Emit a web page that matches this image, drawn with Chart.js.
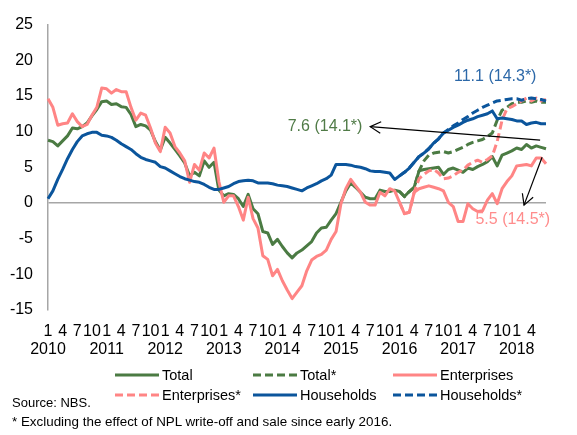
<!DOCTYPE html>
<html>
<head>
<meta charset="utf-8">
<script src="https://cdn.jsdelivr.net/npm/chart.js@4.4.1/dist/chart.umd.min.js"></script>
<style>
html,body{margin:0;padding:0;background:#fff;}
#wrap{position:relative;width:577px;height:435px;overflow:hidden;font-family:"Liberation Sans",Arial,sans-serif;color:#000;}
#c{position:absolute;left:0;top:0;}
.lg{position:absolute;height:18px;display:flex;align-items:center;font-size:14.5px;white-space:nowrap;}
.lg svg{margin-right:3px;}
.note{position:absolute;left:12px;line-height:16px;white-space:nowrap;}
</style>
</head>
<body>
<div id="wrap">
<canvas id="c" width="577" height="435"></canvas>
<div id="legend"></div>
<div class="note" style="top:395px;font-size:13px;">Source: NBS.</div>
<div class="note" style="top:414px;font-size:13.4px;">* Excluding the effect of NPL write-off and sale since early 2016.</div>
</div>
<script>
// ---- categories ----
const years = [2010, 2011, 2012, 2013, 2014, 2015, 2016, 2017, 2018];
const monthTicks = ['1', '', '', '4', '', '', '7', '', '', '10', '', ''];
const lastMonthOf2018 = 7;     // data runs Jan 2010 - Jul 2018
const lastLabelledMonth2018 = 4; // source shows no "7" tick for Jul 2018
const starStartIndex = 72;     // starred series start Jan 2016

// ---- y-axis ticks ----
const yTicks = [25, 20, 15, 10, 5, 0, -5, -10, -15];

// ---- series values (%) ----
const total = [
  8.8, 8.6, 8.0, 8.7, 9.4, 10.5, 10.4, 10.7, 11.2, 12.2, 13.1, 14.2,
  14.3, 13.8, 13.9, 13.5, 13.4, 12.4, 10.7, 11.0, 10.8, 10.2, 8.6, 7.4,
  9.2, 8.4, 7.5, 6.6, 5.6, 3.8, 4.3, 3.8, 5.9, 5.0, 5.7, 1.8,
  1.0, 1.3, 1.2, 0.6, -0.5, 1.2, -0.8, -1.5, -4.0, -4.2, -5.8, -5.1,
  -6.1, -7.0, -7.7, -7.0, -6.6, -6.0, -5.4, -4.2, -3.5, -3.4, -2.4, -1.5,
  0.1, 1.7, 2.8, 2.2, 1.5, 0.8, 0.6, 0.6, 1.8, 1.6, 1.6, 1.8,
  1.6, 0.9, 1.6, 2.2, 4.5, 4.7, 4.8, 4.9, 5.0, 4.0, 4.7, 4.9,
  4.6, 4.3, 4.9, 4.7, 5.1, 5.4, 5.8, 6.5, 5.2, 6.7, 7.0, 7.3,
  7.7, 7.5, 8.2, 7.7, 8.0, 7.8, 7.6
];
const totalStar = [
  1.6, 0.9, 1.6, 2.2, 4.5, 5.9, 6.7, 7.0, 7.1, 7.2, 7.0, 7.2,
  7.5, 7.8, 8.2, 8.5, 8.7, 8.9, 9.3, 9.8, 11.6, 13.0, 13.4, 13.9,
  14.1, 14.1, 14.3, 14.1, 14.3, 14.1, 14.1
];
const enterprises = [
  14.6, 13.4, 10.9, 11.1, 11.2, 12.5, 11.4, 10.7, 11.0, 12.3, 13.4, 16.1,
  16.0, 15.4, 15.9, 15.6, 15.6, 13.4, 11.6, 12.6, 12.3, 10.5, 8.4, 7.2,
  10.6, 9.8, 7.9, 7.0, 5.9, 2.9, 5.4, 4.6, 7.0, 6.3, 7.7, 3.0,
  0.1, 1.0, 1.0, -0.5, -2.4, 0.8, -2.2, -3.5, -7.4, -7.9, -10.2, -9.3,
  -10.9, -12.2, -13.4, -12.5, -11.6, -9.5, -8.0, -7.5, -7.2, -6.6, -5.1, -4.0,
  -0.1, 2.0, 3.3, 2.4, 1.5, 0.1, -0.3, -0.3, 1.5, 1.0, 2.0, 1.7,
  0.1, -1.5, -1.3, 1.5, 2.0, 2.2, 2.4, 2.2, 2.0, 1.7, 0.1, -0.5,
  -2.6, -2.6, -0.1, -0.8, -1.2, -1.1, 0.4, 1.3, -0.1, 2.0, 3.0, 3.8,
  5.2, 5.3, 5.4, 5.2, 6.3, 6.3, 5.5
];
const enterprisesStar = [
  0.1, -1.5, -1.3, 1.5, 3.4, 4.0, 4.5, 4.7, 4.2, 3.4, 3.5, 3.8,
  4.3, 4.6, 5.3, 5.7, 6.0, 5.7, 6.1, 6.6, 8.6, 11.6, 13.2, 13.5,
  13.9, 14.3, 14.7, 14.3, 14.7, 14.3, 14.5
];
const households = [
  0.6, 1.7, 3.3, 4.7, 6.2, 7.5, 8.6, 9.4, 9.7, 9.9, 9.9, 9.5,
  9.4, 9.2, 8.8, 8.3, 7.9, 7.5, 6.9, 6.4, 6.1, 5.9, 5.7, 5.1,
  4.9, 4.5, 4.1, 3.7, 3.4, 3.2, 3.0, 2.9, 2.6, 2.2, 1.9, 1.9,
  2.1, 2.3, 2.7, 3.0, 3.1, 3.2, 3.1, 2.8, 2.8, 2.8, 2.7, 2.5,
  2.4, 2.3, 2.1, 1.9, 1.7, 2.1, 2.4, 2.7, 3.1, 3.4, 3.9, 5.4,
  5.4, 5.4, 5.3, 5.1, 5.0, 4.8, 4.5, 4.4, 4.4, 4.3, 4.2, 3.3,
  3.8, 4.3, 4.9, 5.7, 6.5, 7.0, 7.6, 8.4, 9.0, 9.8, 10.2, 10.6,
  10.9, 11.3, 11.6, 11.8, 12.1, 12.3, 12.5, 12.9, 11.8, 11.9, 11.8, 11.7,
  11.5, 11.5, 11.0, 11.2, 11.3, 11.1, 11.1
];
const householdsStar = [
  3.8, 4.3, 4.9, 5.7, 6.5, 7.0, 7.6, 8.4, 9.0, 9.8, 10.3, 10.8,
  11.2, 11.7, 12.1, 12.6, 13.0, 13.4, 13.7, 14.0, 14.3, 14.4, 14.5, 14.6,
  14.6, 14.4, 14.6, 14.7, 14.6, 14.5, 14.3
];

// ---- annotation texts ----
const noteTexts = ['7.6 (14.1*)', '11.1 (14.3*)', '5.5 (14.5*)'];

// ---- build categories ----
const labels = [];
years.forEach(y => {
  const n = (y === 2018) ? lastMonthOf2018 : 12;
  for (let m = 0; m < n; m++) {
    let t = monthTicks[m];
    if (y === 2018 && m + 1 > lastLabelledMonth2018) t = '';
    labels.push(m === 0 ? [t, String(y)] : t);
  }
});
const padStar = arr => Array(starStartIndex).fill(null).concat(arr);

const GREEN = '#4B7B43', PINK = '#FF8585', BLUE = '#0B559C';
const series = [
  {label: 'Total', data: total, color: GREEN, dash: [], order: 6},
  {label: 'Total*', data: padStar(totalStar), color: GREEN, dash: [8, 4], order: 5},
  {label: 'Enterprises', data: enterprises, color: PINK, dash: [], order: 4},
  {label: 'Enterprises*', data: padStar(enterprisesStar), color: PINK, dash: [8, 4], order: 3},
  {label: 'Households', data: households, color: BLUE, dash: [], order: 2},
  {label: 'Households*', data: padStar(householdsStar), color: BLUE, dash: [8, 4], order: 1}
];

const datasets = series.map(s => ({
  label: s.label, data: s.data, borderColor: s.color, backgroundColor: s.color,
  borderDash: s.dash, borderWidth: 3, pointRadius: 0, tension: 0, fill: false,
  order: s.order, spanGaps: false, borderCapStyle: 'butt', borderJoinStyle: 'round'
}));

// annotation layout
const notes = [
  {text: noteTexts[0], color: '#507B47', at: [64.4, 10.75], align: 'right'},
  {text: noteTexts[1], color: '#2C68A8', at: [91.6, 17.7], align: 'center'},
  {text: noteTexts[2], color: '#FF8C8C', at: [95.2, -2.3], align: 'center'}
];
const arrows = [
  {from: [100.8, 8.8], to: [66.0, 10.7]},
  {from: [101.2, 6.4], to: [97.5, -0.3]}
];

const annotatePlugin = {
  id: 'annot',
  afterDatasetsDraw(chart) {
    const ctx = chart.ctx, xs = chart.scales.x, ys = chart.scales.y;
    ctx.save();
    ctx.strokeStyle = '#000';
    ctx.lineWidth = 1.2;
    arrows.forEach(a => {
      const x1 = xs.getPixelForValue(a.from[0]), y1 = ys.getPixelForValue(a.from[1]);
      const x2 = xs.getPixelForValue(a.to[0]), y2 = ys.getPixelForValue(a.to[1]);
      ctx.beginPath(); ctx.moveTo(x1, y1); ctx.lineTo(x2, y2); ctx.stroke();
      const ang = Math.atan2(y1 - y2, x1 - x2), L = 12, sp = 0.5;
      ctx.beginPath();
      ctx.moveTo(x2 + L * Math.cos(ang - sp), y2 + L * Math.sin(ang - sp));
      ctx.lineTo(x2, y2);
      ctx.lineTo(x2 + L * Math.cos(ang + sp), y2 + L * Math.sin(ang + sp));
      ctx.stroke();
    });
    ctx.font = '16px "Liberation Sans", Arial, sans-serif';
    ctx.textBaseline = 'middle';
    notes.forEach(n => {
      ctx.fillStyle = n.color;
      ctx.textAlign = n.align;
      ctx.fillText(n.text, xs.getPixelForValue(n.at[0]), ys.getPixelForValue(n.at[1]));
    });
    ctx.restore();
  }
};

new Chart(document.getElementById('c'), {
  type: 'line',
  data: {labels, datasets},
  options: {
    responsive: false,
    animation: false,
    devicePixelRatio: 1,
    layout: {padding: {left: 0, top: 19, right: 31, bottom: 75}},
    plugins: {legend: {display: false}, tooltip: {enabled: false}},
    scales: {
      x: {
        type: 'category',
        offset: false,
        grid: {display: false, drawTicks: false},
        border: {display: false},
        ticks: {
          autoSkip: false, maxRotation: 0, minRotation: 0, padding: 12,
          color: '#000',
          font: {family: '"Liberation Sans", Arial, sans-serif', size: 16, lineHeight: 1.15}
        },
        afterFit(s) { s.height = 50; }
      },
      y: {
        min: Math.min(...yTicks), max: Math.max(...yTicks),
        afterBuildTicks(s) { s.ticks = yTicks.slice().reverse().map(v => ({value: v})); },
        grid: {
          drawTicks: false,
          color: c => (c.tick && c.tick.value === 0) ? '#A6A6A6' : 'rgba(0,0,0,0)',
          lineWidth: 1.5
        },
        border: {display: true, color: '#A6A6A6', width: 1.5},
        ticks: {
          padding: 15, color: '#000',
          font: {family: '"Liberation Sans", Arial, sans-serif', size: 16}
        },
        afterFit(s) { s.width = 48; }
      }
    }
  },
  plugins: [annotatePlugin]
});

// ---- HTML legend ----
const legendCols = [115, 253, 393];
const legendRows = [366, 386];
const legendOrder = ['Total', 'Total*', 'Enterprises', 'Enterprises*', 'Households', 'Households*'];
const lg = document.getElementById('legend');
legendOrder.forEach((name, k) => {
  const s = series.find(q => q.label === name);
  const d = document.createElement('div');
  d.className = 'lg';
  d.style.left = legendCols[k % 3] + 'px';
  d.style.top = legendRows[Math.floor(k / 3)] + 'px';
  const dash = s.dash.length ? ` stroke-dasharray="${s.dash.join(' ')}"` : '';
  d.innerHTML = `<svg width="44" height="4"><line x1="0" y1="2" x2="44" y2="2" stroke="${s.color}" stroke-width="3"${dash}/></svg><span>${name}</span>`;
  lg.appendChild(d);
});
</script>
</body>
</html>
